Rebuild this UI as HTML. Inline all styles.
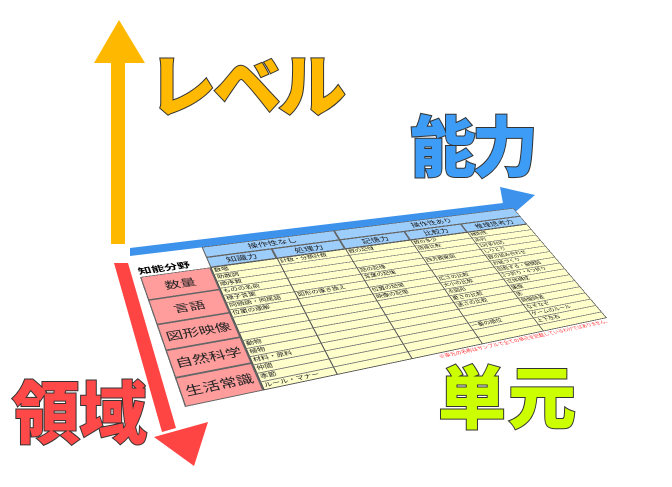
<!DOCTYPE html>
<html><head><meta charset="utf-8">
<style>
html,body{margin:0;padding:0;background:#fff;}
body{width:672px;height:487px;position:relative;overflow:hidden;font-family:"Liberation Sans","Noto Sans CJK JP",sans-serif;}
.big{position:absolute;font-family:"Noto Sans CJK JP",sans-serif;font-weight:900;line-height:1;white-space:nowrap;-webkit-text-stroke:2px #333;paint-order:stroke fill;}
#tbl{position:absolute;left:0;top:0;width:400px;height:160px;transform-origin:0 0;
transform:matrix3d(1.3075,0.012,0,0.00064525, 0.12875,0.4769,0,-0.00082438, 0,0,1,0, 140,277,0,1);}
#tbl div{position:absolute;box-sizing:border-box;white-space:nowrap;font-family:"Noto Sans CJK JP",sans-serif;color:#222;}
.hd{background:#9dcdfb;border:0.6px solid #666;font-size:9.5px;text-align:center;line-height:12px;}
.pk{background:#ff9d9d;border:0.6px solid #666;font-size:13px;text-align:center;line-height:30px;}
.cell{font-size:6.5px;line-height:9px;padding-left:2px;}
.hl{height:0;border-top:0.5px solid #777;}
.vl{width:0;border-left:0.6px solid #555;}
</style></head><body>
<svg width="672" height="487" style="position:absolute;left:0;top:0">
 <polygon points="111,60 125,60 125,244 111,244" fill="#ffb800"/>
 <polygon points="119,20 145,63 94,63" fill="#ffb800"/>
 <polygon points="130,248 503,203 505,211 130,256" fill="#3d93ec"/>
 <polygon points="500,187 535,195 506,220" fill="#3d93ec"/>
 <polygon points="114,263 128,263 176,428 162,432" fill="#ff4444"/>
 <polygon points="154,437 208,422 194,466" fill="#ff4444"/>
</svg>

<div id="tbl">
 <div style="left:0;top:-15px;width:60px;font-size:11px;font-weight:bold;color:#000;line-height:14px;">知能分野</div>
 <div style="left:60px;top:0;width:340px;height:160px;background:#ffffcc;border:0.6px solid #555;"></div>
 <div class="hd" style="left:60px;top:-31px;width:129px;height:16px;">操作性なし</div>
 <div class="hd" style="left:189px;top:-31px;width:211px;height:16px;">操作性あり</div>
 <div class="hd" style="left:60px;top:-15px;width:61px;height:15px;">知識力</div>
 <div class="hd" style="left:121px;top:-15px;width:68px;height:15px;">処理力</div>
 <div class="hd" style="left:189px;top:-15px;width:70px;height:15px;">記憶力</div>
 <div class="hd" style="left:259px;top:-15px;width:66px;height:15px;">比較力</div>
 <div class="hd" style="left:325px;top:-15px;width:75px;height:15px;">推理思考力</div>
 <div class="pk" style="left:0;top:0;width:60px;height:32px;">数量</div>
 <div class="pk" style="left:0;top:32px;width:60px;height:32px;">言語</div>
 <div class="pk" style="left:0;top:64px;width:60px;height:32px;">図形映像</div>
 <div class="pk" style="left:0;top:96px;width:60px;height:32px;">自然科学</div>
 <div class="pk" style="left:0;top:128px;width:60px;height:32px;">生活常識</div>
 <div class="hl" style="left:60px;width:340px;top:10px"></div>
 <div class="hl" style="left:60px;width:340px;top:20px"></div>
 <div class="hl" style="left:60px;width:340px;top:30px"></div>
 <div class="hl" style="left:60px;width:340px;top:40px"></div>
 <div class="hl" style="left:60px;width:340px;top:50px"></div>
 <div class="hl" style="left:60px;width:340px;top:60px"></div>
 <div class="hl" style="left:60px;width:340px;top:70px"></div>
 <div class="hl" style="left:60px;width:340px;top:80px"></div>
 <div class="hl" style="left:60px;width:340px;top:90px"></div>
 <div class="hl" style="left:60px;width:340px;top:100px"></div>
 <div class="hl" style="left:60px;width:340px;top:110px"></div>
 <div class="hl" style="left:60px;width:340px;top:120px"></div>
 <div class="hl" style="left:60px;width:340px;top:130px"></div>
 <div class="hl" style="left:60px;width:340px;top:140px"></div>
 <div class="hl" style="left:60px;width:340px;top:150px"></div>
 <div class="vl" style="left:121px;top:0;height:160px"></div>
 <div class="vl" style="left:189px;top:0;height:160px"></div>
 <div class="vl" style="left:259px;top:0;height:160px"></div>
 <div class="vl" style="left:325px;top:0;height:160px"></div>
 <div class="cell" style="left:60px;top:0">数唱</div>
 <div class="cell" style="left:60px;top:10px">助数詞</div>
 <div class="cell" style="left:60px;top:20px">順序数</div>
 <div class="cell" style="left:60px;top:30px">ものの名前</div>
 <div class="cell" style="left:60px;top:40px">様子言葉</div>
 <div class="cell" style="left:60px;top:50px">同頭語・同尾語</div>
 <div class="cell" style="left:60px;top:60px">位置の理解</div>
 <div class="cell" style="left:60px;top:100px">動物</div>
 <div class="cell" style="left:60px;top:110px">植物</div>
 <div class="cell" style="left:60px;top:120px">材料・原料</div>
 <div class="cell" style="left:60px;top:130px">仲間</div>
 <div class="cell" style="left:60px;top:140px">季節</div>
 <div class="cell" style="left:60px;top:150px">ルール・マナー</div>
 <div class="cell" style="left:121px;top:0">計数・分類計数</div>
 <div class="cell" style="left:121px;top:50px">図形の置き換え</div>
 <div class="cell" style="left:189px;top:0">数の記憶</div>
 <div class="cell" style="left:189px;top:30px">話の記憶</div>
 <div class="cell" style="left:189px;top:40px">言葉の記憶</div>
 <div class="cell" style="left:189px;top:60px">位置の記憶</div>
 <div class="cell" style="left:189px;top:70px">映像の記憶</div>
 <div class="cell" style="left:259px;top:0">数の多少</div>
 <div class="cell" style="left:259px;top:10px">間接比較</div>
 <div class="cell" style="left:259px;top:30px">四方観察図</div>
 <div class="cell" style="left:259px;top:60px">広さの比較</div>
 <div class="cell" style="left:259px;top:70px">大小の比較</div>
 <div class="cell" style="left:259px;top:80px">点図形</div>
 <div class="cell" style="left:259px;top:90px">重さの比較</div>
 <div class="cell" style="left:259px;top:100px">速さの比較</div>
 <div class="cell" style="left:259px;top:130px">一番の順位</div>
 <div class="cell" style="left:325px;top:0">規則性</div>
 <div class="cell" style="left:325px;top:10px">系列</div>
 <div class="cell" style="left:325px;top:20px">1対多対応</div>
 <div class="cell" style="left:325px;top:30px">しりとり</div>
 <div class="cell" style="left:325px;top:40px">数の組み合わせ</div>
 <div class="cell" style="left:325px;top:50px">お話づくり</div>
 <div class="cell" style="left:325px;top:60px">回転する・展開図</div>
 <div class="cell" style="left:325px;top:70px">2つ折り・4つ折り</div>
 <div class="cell" style="left:325px;top:80px">立体構成</div>
 <div class="cell" style="left:325px;top:90px">鏡像</div>
 <div class="cell" style="left:325px;top:100px">影</div>
 <div class="cell" style="left:325px;top:110px">時間時差</div>
 <div class="cell" style="left:325px;top:120px">なぞなぞ</div>
 <div class="cell" style="left:325px;top:130px">ゲームのルール</div>
 <div class="cell" style="left:325px;top:140px">上下左右</div>
 <div style="left:200px;top:161px;width:200px;text-align:right;font-size:5.5px;color:#ff3333;line-height:7px;">※単元の名称はサンプルで全ての単元を記載しているわけではありません。</div>
</div>

<div class="big" style="left:148px;top:48px;font-size:68px;color:#ffb900;letter-spacing:-3px;">レベル</div>
<div class="big" style="left:410px;top:110px;font-size:66px;color:#3d9cf5;letter-spacing:-4px;">能力</div>
<div class="big" style="left:12px;top:375px;font-size:68px;color:#ff4848;letter-spacing:-1px;">領域</div>
<div class="big" style="left:438px;top:360px;font-size:68px;color:#ccff00;letter-spacing:2px;">単元</div>
</body></html>
